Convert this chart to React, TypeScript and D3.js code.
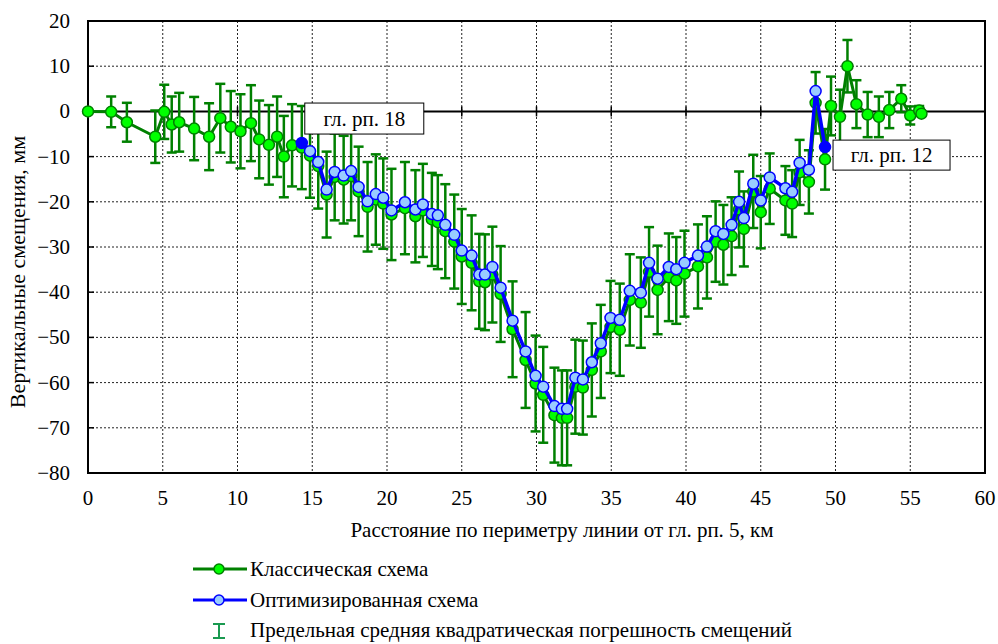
import * as d3 from 'd3';
import { useEffect, useRef } from 'react';

// расстояние, км
const distKm = [
  0, 1.55, 2.6, 4.5, 5.1, 5.6, 6.1, 7.1, 8.1, 8.85, 9.55, 10.2, 10.9, 11.45, 12.1, 12.65, 13.1, 13.65,
  14.3, 14.85, 15.4, 15.96, 16.5, 17.1, 17.6, 18.1, 18.7, 19.25, 19.75, 20.3, 21.2, 21.9, 22.4, 23.0,
  23.4, 23.9, 24.5, 25.0, 25.66, 26.17, 26.55, 27.05, 27.6, 28.4, 29.27, 29.94, 30.45, 31.2, 31.7, 32.05,
  32.6, 33.1, 33.7, 34.3, 34.95, 35.57, 36.24, 36.98, 37.53, 38.1, 38.85, 39.35, 39.9, 40.8, 41.4, 41.98,
  42.5, 43.05, 43.55, 43.87, 44.5, 45.0, 45.6, 46.65, 47.1, 47.6, 48.22, 48.67, 49.3,
  49.7, 50.3, 50.8, 51.4, 52.15, 52.9, 53.6, 54.4, 55.0, 55.6, 55.75,
];

// классическая схема, мм
const classic = [
  0, -0.1, -2.4, -5.6, -0.1, -2.9, -2.4, -3.8, -5.6, -1.5, -3.4, -4.4, -2.6, -6.2, -7.4, -5.6, -10.0, -7.5,
  -8.0, -9.8, -12.1, -18.4, -14.5, -15.1, -14.3, -17.7, -21.1, -19.5, -20.4, -22.8, -21.4, -23.2, -21.9, -23.9,
  -24.5, -26.5, -28.8, -32.1, -33.5, -37.6, -37.8, -36.1, -40.4, -48.2, -55.0, -60.2, -62.7, -67.2, -67.8, -67.8,
  -60.9, -61.1, -57.2, -53.1, -47.7, -48.3, -41.7, -42.3, -35.5, -39.5, -36.7, -37.4, -35.9, -34.3, -32.3, -28.8,
  -29.5, -27.6, -21.7, -26.0, -17.7, -22.3, -17.1, -19.7, -20.4, -13.5, -15.6, 1.9, -10.6,
  1.2, -1.2, 10.0, 1.6, -0.7, -1.2, 0.3, 2.8, -0.9, 0.2, -0.5,
];

// оптимизированная схема, мм (null — нет точки)
const optimized = [
  null, null, null, null, null, null, null, null, null, null, null, null, null, null, null, null, null, null,
  -7.0, -8.8, -11.2, -17.3, -13.4, -14.2, -13.2, -16.7, -19.9, -18.3, -19.1, -21.9, -20.1, -21.7, -20.6, -22.7,
  -23.0, -25.1, -27.3, -30.8, -31.9, -36.1, -36.1, -34.4, -39.0, -46.3, -53.1, -58.5, -60.9, -65.2, -65.8, -65.8,
  -58.9, -59.3, -55.5, -51.3, -45.7, -46.1, -39.7, -40.1, -33.5, -37.0, -34.4, -34.9, -33.5, -31.9, -29.9, -26.5,
  -27.1, -25.1, -20.0, -23.6, -16.0, -19.7, -14.6, -17.0, -17.8, -11.4, -12.9, 4.5, -7.9,
  null, null, null, null, null, null, null, null, null, null, null,
];

// предельная СКП, мм
const errMm = [
  0, 3.4, 4.3, 5.8, 6.0, 6.2, 6.5, 7.0, 7.4, 7.6, 7.9, 8.2, 8.4, 8.6, 8.8, 8.9, 9.0, 9.1,
  9.2, 9.3, 9.4, 9.5, 9.6, 9.7, 9.8, 9.9, 9.9, 10.0, 10.0, 10.1, 10.2, 10.2, 10.3, 10.3,
  10.4, 10.4, 10.4, 10.5, 10.5, 10.5, 10.6, 10.6, 10.6, 10.6, 10.6, 10.6, 10.6, 10.5, 10.5, 10.5,
  10.4, 10.4, 10.3, 10.3, 10.2, 10.2, 10.1, 10.0, 9.9, 9.8, 9.7, 9.6, 9.5, 9.3, 9.1, 8.9,
  8.8, 8.6, 8.4, 8.3, 8.1, 8.0, 7.8, 7.6, 7.4, 7.2, 7.0, 6.8, 6.7,
  6.5, 6.0, 5.8, 5.3, 5.0, 4.5, 4.0, 3.0, 2.0, 1.0, 0.5,
];

const xTicks = [0, 5, 10, 15, 20, 25, 30, 35, 40, 45, 50, 55, 60];
const yTicks = [20, 10, 0, -10, -20, -30, -40, -50, -60, -70, -80];

const legendItems = [
  'Классическая схема',
  'Оптимизированная схема',
  'Предельная средняя квадратическая погрешность смещений',
];

const W = 998;
const H = 644;
const FF = 'Liberation Serif';

const GREEN = '#008000';
const LIME = '#00ff00';
const BLUE = '#0000ff';
const LIGHTBLUE = '#99ccff';

export default function App() {
  const svgRef = useRef<SVGSVGElement>(null);

  useEffect(() => {
    const left = 88, right = 985, top = 21, bottom = 473;
    const svg = d3.select(svgRef.current);
    svg.selectAll('*').remove();

    const x = d3.scaleLinear().domain([0, 60]).range([left, right]);
    const y = d3.scaleLinear().domain([-80, 20]).range([bottom, top]);

    const pts = distKm.map((d, i) => ({ d, c: classic[i], o: optimized[i], e: errMm[i] }));
    const optPts = pts.filter((p) => p.o !== null) as any[];

    const txt = (g: any, s: string, tx: number, ty: number, size: number, anchor = 'start') =>
      g.append('text')
        .attr('x', tx).attr('y', ty)
        .attr('text-anchor', anchor)
        .attr('font-size', size)
        .style('font-family', FF)
        .text(s);

    // сетка
    svg.selectAll('line.gy').data(yTicks.filter((t) => t !== 20 && t !== -80 && t !== 0)).enter()
      .append('line').attr('class', 'gy')
      .attr('x1', left).attr('x2', right).attr('y1', (t) => y(t)).attr('y2', (t) => y(t))
      .attr('stroke', '#222').attr('stroke-dasharray', '2,2');
    svg.selectAll('line.gx').data(xTicks.filter((t) => t !== 0 && t !== 60)).enter()
      .append('line').attr('class', 'gx')
      .attr('x1', (t) => x(t)).attr('x2', (t) => x(t)).attr('y1', top).attr('y2', bottom)
      .attr('stroke', '#222').attr('stroke-dasharray', '2,2');

    // рамка и ось на нуле
    svg.append('rect').attr('x', left).attr('y', top).attr('width', right - left).attr('height', bottom - top)
      .attr('fill', 'none').attr('stroke', '#000').attr('stroke-width', 2);
    svg.append('line').attr('x1', left).attr('x2', right).attr('y1', y(0)).attr('y2', y(0))
      .attr('stroke', '#000').attr('stroke-width', 2);
    xTicks.forEach((t) => {
      svg.append('line').attr('x1', x(t)).attr('x2', x(t)).attr('y1', y(0) - 5).attr('y2', y(0) + 5)
        .attr('stroke', '#000').attr('stroke-width', 1.5);
    });
    yTicks.forEach((t) => {
      svg.append('line').attr('x1', left).attr('x2', left + 6).attr('y1', y(t)).attr('y2', y(t))
        .attr('stroke', '#000').attr('stroke-width', 1.5);
    });

    // подписи осей
    yTicks.forEach((t) => {
      txt(svg, t < 0 ? '\u2212' + Math.abs(t) : String(t), left - 18, y(t) + 7, 21, 'end');
    });
    xTicks.forEach((t) => {
      txt(svg, String(t), x(t), bottom + 32, 21, 'middle');
    });
    txt(svg, 'Вертикальные смещения, мм', 0, 0, 22, 'middle')
      .attr('transform', `translate(25,272) rotate(-90)`);
    txt(svg, 'Расстояние по периметру линии от гл. рп. 5, км', 562, 537, 21, 'middle');

    // погрешности
    const eg = svg.append('g').attr('stroke', GREEN).attr('stroke-width', 2.5);
    pts.filter((p) => p.e > 0).forEach((p) => {
      const px = x(p.d), y1 = y(p.c + p.e), y2 = y(p.c - p.e);
      eg.append('line').attr('x1', px).attr('x2', px).attr('y1', y1).attr('y2', y2);
      eg.append('line').attr('x1', px - 5).attr('x2', px + 5).attr('y1', y1).attr('y2', y1);
      eg.append('line').attr('x1', px - 5).attr('x2', px + 5).attr('y1', y2).attr('y2', y2);
    });

    // классическая схема
    const lineC = d3.line<any>().x((p) => x(p.d)).y((p) => y(p.c));
    svg.append('path').attr('d', lineC(pts)).attr('fill', 'none').attr('stroke', GREEN).attr('stroke-width', 3);
    svg.selectAll('circle.c').data(pts).enter().append('circle').attr('class', 'c')
      .attr('cx', (p) => x(p.d)).attr('cy', (p) => y(p.c)).attr('r', 5.5)
      .attr('fill', LIME).attr('stroke', GREEN).attr('stroke-width', 1.5);

    // оптимизированная схема
    const lineO = d3.line<any>().x((p) => x(p.d)).y((p) => y(p.o));
    svg.append('path').attr('d', lineO(optPts)).attr('fill', 'none').attr('stroke', BLUE).attr('stroke-width', 3.5);
    svg.selectAll('circle.o').data(optPts).enter().append('circle').attr('class', 'o')
      .attr('cx', (p: any) => x(p.d)).attr('cy', (p: any) => y(p.o)).attr('r', 5.5)
      .attr('fill', (_p, i) => (i === 0 || i === optPts.length - 1 ? BLUE : LIGHTBLUE))
      .attr('stroke', BLUE).attr('stroke-width', 1.5);

    // подписи реперов
    const first = optPts[0];
    const last = optPts[optPts.length - 1];
    const b1 = svg.append('g').attr('transform', `translate(${x(first.d) + 3},${y(first.o) - 40})`);
    b1.append('rect').attr('width', 119).attr('height', 31).attr('fill', '#fff').attr('stroke', '#000');
    txt(b1, 'гл. рп. 18', 59.5, 22.5, 21, 'middle');
    const b2 = svg.append('g').attr('transform', `translate(${x(last.d) + 8},${y(last.o) - 7})`);
    b2.append('rect').attr('width', 117).attr('height', 30).attr('fill', '#fff').attr('stroke', '#000');
    txt(b2, 'гл. рп. 12', 58.5, 22, 21, 'middle');

    // легенда
    svg.append('line').attr('x1', 193).attr('x2', 247).attr('y1', 569).attr('y2', 569)
      .attr('stroke', GREEN).attr('stroke-width', 3);
    svg.append('circle').attr('cx', 219).attr('cy', 569).attr('r', 5)
      .attr('fill', LIME).attr('stroke', GREEN).attr('stroke-width', 1.5);
    txt(svg, legendItems[0], 250, 576, 21);

    svg.append('line').attr('x1', 193).attr('x2', 247).attr('y1', 600).attr('y2', 600)
      .attr('stroke', BLUE).attr('stroke-width', 3);
    svg.append('circle').attr('cx', 219).attr('cy', 600).attr('r', 5)
      .attr('fill', LIGHTBLUE).attr('stroke', BLUE).attr('stroke-width', 1.5);
    txt(svg, legendItems[1], 250, 607, 21);

    const lg = svg.append('g').attr('stroke', '#1a9a50').attr('stroke-width', 2);
    lg.append('line').attr('x1', 219).attr('x2', 219).attr('y1', 624).attr('y2', 638);
    lg.append('line').attr('x1', 213).attr('x2', 225).attr('y1', 624).attr('y2', 624);
    lg.append('line').attr('x1', 213).attr('x2', 225).attr('y1', 638).attr('y2', 638);
    txt(svg, legendItems[2], 250, 637, 21);
  }, []);

  return (
    <svg ref={svgRef} width={W} height={H} style={{ position: 'absolute', left: 0, top: 0, background: '#fff' }} />
  );
}
